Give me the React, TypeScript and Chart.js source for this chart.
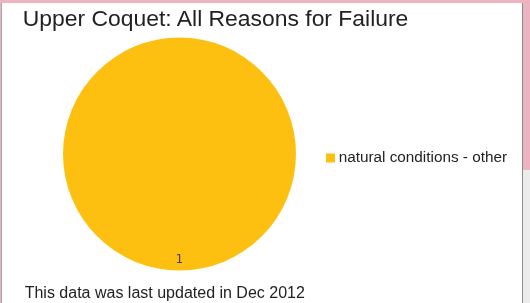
import React, { useEffect, useRef } from 'react';
import { Chart, registerables } from 'chart.js';

Chart.register(...registerables);

const categories: string[] = ['natural conditions - other'];
const values: number[] = [1];
const sliceColors: string[] = ['#FDC011'];
const titleText = 'Upper Coquet: All Reasons for Failure';
const footerText = 'This data was last updated in Dec 2012';

const FONT = '"Liberation Sans", Arial, sans-serif';

const sliceLabelPlugin = {
  id: 'sliceLabels',
  afterDatasetsDraw(chart: any) {
    const ctx = chart.ctx;
    const meta = chart.getDatasetMeta(0);
    ctx.save();
    ctx.font = '11.5px "DejaVu Sans", sans-serif';
    ctx.fillStyle = '#3a3a3a';
    ctx.textAlign = 'center';
    ctx.textBaseline = 'middle';
    meta.data.forEach((arc: any, i: number) => {
      const p = arc.getProps(['x', 'y', 'startAngle', 'endAngle', 'outerRadius'], true);
      const mid = (p.startAngle + p.endAngle) / 2;
      const r = p.outerRadius * 0.91;
      ctx.fillText(String(values[i]), p.x + Math.cos(mid) * r, p.y + Math.sin(mid) * r);
    });
    ctx.restore();
  },
};

export default function App() {
  const canvasRef = useRef<HTMLCanvasElement | null>(null);

  useEffect(() => {
    document.body.style.margin = '0';
    const canvas = canvasRef.current;
    if (!canvas) return;
    const chart = new Chart(canvas, {
      type: 'pie',
      data: {
        labels: categories,
        datasets: [
          {
            data: values,
            backgroundColor: sliceColors,
            borderWidth: 0,
          },
        ],
      },
      options: {
        responsive: false,
        animation: false,
        devicePixelRatio: 1,
        events: [],
        layout: { padding: { left: 63, top: 37, right: 13, bottom: 32 } },
        plugins: {
          tooltip: { enabled: false },
          title: { display: false },
          legend: {
            position: 'right',
            title: { display: true, text: '', font: { size: 8, lineHeight: 1 }, padding: 0 },
            labels: {
              usePointStyle: true,
              pointStyle: 'rect',
              boxWidth: 1,
              boxHeight: 9,
              padding: 34,
              color: '#222222',
              font: { size: 15.3, family: FONT },
            },
          },
        },
      },
      plugins: [sliceLabelPlugin],
    } as any);
    return () => chart.destroy();
  }, []);

  return (
    <div
      style={{
        position: 'relative',
        width: 530,
        height: 303,
        overflow: 'hidden',
        background: '#EDB3C0',
      }}
    >
      <div
        style={{
          position: 'absolute',
          left: 522,
          top: 170,
          width: 8,
          height: 133,
          background: '#ECECEC',
        }}
      />
      <div
        style={{
          position: 'absolute',
          left: 1,
          top: 3,
          width: 520,
          height: 300,
          background: '#FFFFFF',
          borderLeft: '1px solid #A6A6A6',
          borderRight: '1px solid #8C8C8C',
        }}
      />
      <canvas
        ref={canvasRef}
        width={530}
        height={303}
        style={{ position: 'absolute', left: 0, top: 0 }}
      />
      <div
        style={{
          position: 'absolute',
          left: 22.8,
          top: 6.6,
          font: `22.9px ${FONT}`,
          lineHeight: '22.9px',
          color: '#222222',
          whiteSpace: 'nowrap',
        }}
      >
        {titleText}
      </div>
      <div
        style={{
          position: 'absolute',
          left: 24.7,
          top: 284.5,
          font: `16px ${FONT}`,
          lineHeight: '16px',
          color: '#222222',
          whiteSpace: 'nowrap',
        }}
      >
        {footerText}
      </div>
    </div>
  );
}
